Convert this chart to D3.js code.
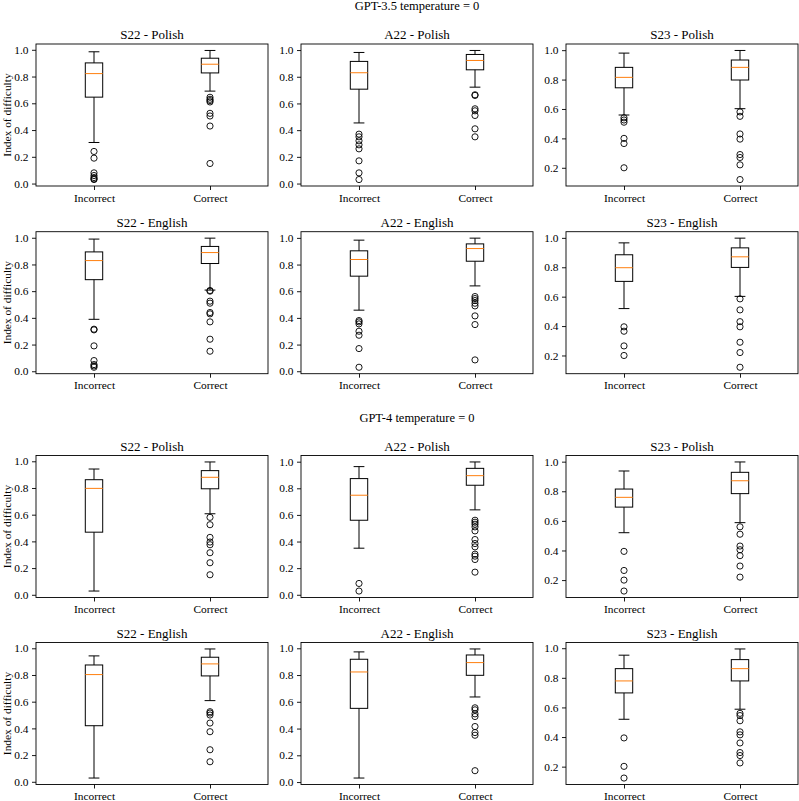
<!DOCTYPE html>
<html>
<head>
<meta charset="utf-8">
<script src="https://cdn.jsdelivr.net/npm/d3@7"></script>
<style>
  body { margin: 0; background: #fff; }
  svg { display: block; font-family: "Liberation Serif", "Times New Roman", serif; }
</style>
</head>
<body>
<svg id="chart" width="799" height="801"></svg>
<script>
// Figure text
const groupTitles = ["GPT-3.5 temperature = 0", "GPT-4 temperature = 0"];
const panelTitles = [
  "S22 - Polish", "A22 - Polish", "S23 - Polish",
  "S22 - English", "A22 - English", "S23 - English",
  "S22 - Polish", "A22 - Polish", "S23 - Polish",
  "S22 - English", "A22 - English", "S23 - English"
];
const categories = ["Incorrect", "Correct"];

// Box statistics per panel: [Incorrect, Correct]
const whiskLow = [
  [0.307, 0.691], [0.454, 0.722], [0.559, 0.602],
  [0.389, 0.608], [0.458, 0.640], [0.519, 0.602],
  [0.028, 0.607], [0.350, 0.638], [0.520, 0.588],
  [0.028, 0.608], [0.030, 0.636], [0.520, 0.588]
];
const q1 = [
  [0.646, 0.827], [0.707, 0.852], [0.744, 0.797],
  [0.686, 0.807], [0.713, 0.825], [0.704, 0.799],
  [0.469, 0.794], [0.560, 0.823], [0.693, 0.784],
  [0.420, 0.793], [0.551, 0.798], [0.698, 0.779]
];
const median = [
  [0.822, 0.892], [0.830, 0.922], [0.815, 0.883],
  [0.829, 0.889], [0.838, 0.920], [0.797, 0.871],
  [0.797, 0.880], [0.748, 0.895], [0.759, 0.871],
  [0.803, 0.883], [0.823, 0.893], [0.779, 0.862]
];
const q3 = [
  [0.902, 0.937], [0.915, 0.967], [0.883, 0.933],
  [0.894, 0.935], [0.903, 0.955], [0.885, 0.932],
  [0.862, 0.930], [0.873, 0.950], [0.815, 0.928],
  [0.875, 0.933], [0.918, 0.950], [0.862, 0.923]
];
const whiskHigh = [
  [0.985, 0.995], [0.982, 0.997], [0.980, 0.998],
  [0.990, 0.997], [0.983, 0.998], [0.966, 0.998],
  [0.942, 0.995], [0.963, 0.998], [0.937, 0.998],
  [0.943, 0.995], [0.973, 0.995], [0.953, 0.995]
];
const fliers = [
  [[0.24, 0.19, 0.08, 0.06, 0.045, 0.035, 0.03], [0.645, 0.63, 0.62, 0.61, 0.525, 0.505, 0.43, 0.15]],
  [[0.37, 0.35, 0.32, 0.29, 0.26, 0.17, 0.08, 0.03], [0.665, 0.66, 0.56, 0.545, 0.51, 0.41, 0.35]],
  [[0.54, 0.525, 0.51, 0.40, 0.365, 0.20], [0.58, 0.55, 0.43, 0.395, 0.29, 0.27, 0.22, 0.12]],
  [[0.315, 0.31, 0.19, 0.08, 0.05, 0.04, 0.03], [0.605, 0.60, 0.525, 0.51, 0.44, 0.43, 0.37, 0.24, 0.15]],
  [[0.38, 0.37, 0.355, 0.30, 0.27, 0.17, 0.03], [0.56, 0.545, 0.53, 0.51, 0.49, 0.415, 0.35, 0.085]],
  [[0.395, 0.365, 0.265, 0.20], [0.585, 0.51, 0.43, 0.395, 0.29, 0.22, 0.12]],
  [[], [0.58, 0.525, 0.43, 0.395, 0.375, 0.315, 0.24, 0.15]],
  [[0.085, 0.028], [0.56, 0.545, 0.53, 0.51, 0.48, 0.415, 0.385, 0.36, 0.305, 0.29, 0.265, 0.17]],
  [[0.394, 0.265, 0.20, 0.126], [0.56, 0.51, 0.43, 0.405, 0.365, 0.295, 0.22]],
  [[], [0.525, 0.515, 0.50, 0.44, 0.375, 0.24, 0.15]],
  [[], [0.555, 0.54, 0.51, 0.49, 0.415, 0.37, 0.35, 0.085]],
  [[0.394, 0.202, 0.123], [0.56, 0.545, 0.51, 0.435, 0.415, 0.36, 0.295, 0.275, 0.225]]
];

const svg = d3.select("#chart");
const colX = [36, 301, 566];
const rowY = [44, 231.7, 455.5, 642.5];
const pw = 232, ph = 142;
const tickFont = 11.4;

// Group titles
svg.append("text").attr("x", 417).attr("y", 10).attr("text-anchor", "middle")
  .style("font-size", "12.5px").text(groupTitles[0]);
svg.append("text").attr("x", 417).attr("y", 422).attr("text-anchor", "middle")
  .style("font-size", "12.5px").text(groupTitles[1]);

panelTitles.forEach((title, p) => {
  const col = p % 3, row = Math.floor(p / 3);
  const g = svg.append("g").attr("transform", `translate(${colX[col]},${rowY[row]})`);

  // autoscale like matplotlib: data range + 5% margins
  const all = [].concat(whiskLow[p], whiskHigh[p], fliers[p][0], fliers[p][1]);
  const lo = d3.min(all), hi = d3.max(all), pad = (hi - lo) * 0.05;
  const y = d3.scaleLinear().domain([lo - pad, hi + pad]).range([ph, 0]);
  const x = d3.scalePoint().domain(categories).range([0, pw]).padding(0.5);
  const boxW = 0.15 * (x.step());
  const capW = boxW * 0.62;

  // y axis
  const yAxis = d3.axisLeft(y).tickValues(d3.ticks(lo - pad, hi + pad, 5))
    .tickFormat(d3.format(".1f")).tickSize(4).tickPadding(3.5);
  const ya = g.append("g").call(yAxis);
  ya.select(".domain").remove();
  ya.selectAll("line").attr("stroke", "#000").attr("stroke-width", 0.9);
  ya.selectAll("text").attr("fill", "#000").style("font-size", tickFont + "px")
    .style("font-family", "'Liberation Serif', serif");

  // x axis
  const xAxis = d3.axisBottom(x).tickSize(4).tickPadding(3.5);
  const xa = g.append("g").attr("transform", `translate(0,${ph})`).call(xAxis);
  xa.select(".domain").remove();
  xa.selectAll("line").attr("stroke", "#000").attr("stroke-width", 0.9);
  xa.selectAll("text").attr("fill", "#000").style("font-size", tickFont + "px")
    .style("font-family", "'Liberation Serif', serif");

  // boxes
  categories.forEach((c, i) => {
    const cx = x(c);
    const bg = g.append("g");
    bg.append("line").attr("x1", cx).attr("x2", cx)
      .attr("y1", y(whiskLow[p][i])).attr("y2", y(q1[p][i]))
      .attr("stroke", "#000").attr("stroke-width", 1);
    bg.append("line").attr("x1", cx).attr("x2", cx)
      .attr("y1", y(q3[p][i])).attr("y2", y(whiskHigh[p][i]))
      .attr("stroke", "#000").attr("stroke-width", 1);
    [whiskLow[p][i], whiskHigh[p][i]].forEach(v => {
      bg.append("line").attr("x1", cx - capW / 2).attr("x2", cx + capW / 2)
        .attr("y1", y(v)).attr("y2", y(v))
        .attr("stroke", "#000").attr("stroke-width", 1);
    });
    bg.append("rect").attr("x", cx - boxW / 2).attr("width", boxW)
      .attr("y", y(q3[p][i])).attr("height", y(q1[p][i]) - y(q3[p][i]))
      .attr("fill", "none").attr("stroke", "#000").attr("stroke-width", 1);
    bg.append("line").attr("x1", cx - boxW / 2).attr("x2", cx + boxW / 2)
      .attr("y1", y(median[p][i])).attr("y2", y(median[p][i]))
      .attr("stroke", "#ff7f0e").attr("stroke-width", 1);
    bg.selectAll("circle").data(fliers[p][i]).join("circle")
      .attr("cx", cx).attr("cy", d => y(d)).attr("r", 3.1)
      .attr("fill", "none").attr("stroke", "#000").attr("stroke-width", 0.9);
  });

  // frame
  g.append("rect").attr("width", pw).attr("height", ph)
    .attr("fill", "none").attr("stroke", "#000").attr("stroke-width", 0.9);

  // panel title
  g.append("text").attr("x", pw / 2).attr("y", -5).attr("text-anchor", "middle")
    .style("font-size", "13px").text(title);

  // y label on first column
  if (col === 0) {
    g.append("text")
      .attr("transform", `translate(${11 - colX[0]},${ph / 2}) rotate(-90)`)
      .attr("text-anchor", "middle").style("font-size", tickFont + "px")
      .text("Index of difficulty");
  }
});
</script>
</body>
</html>
